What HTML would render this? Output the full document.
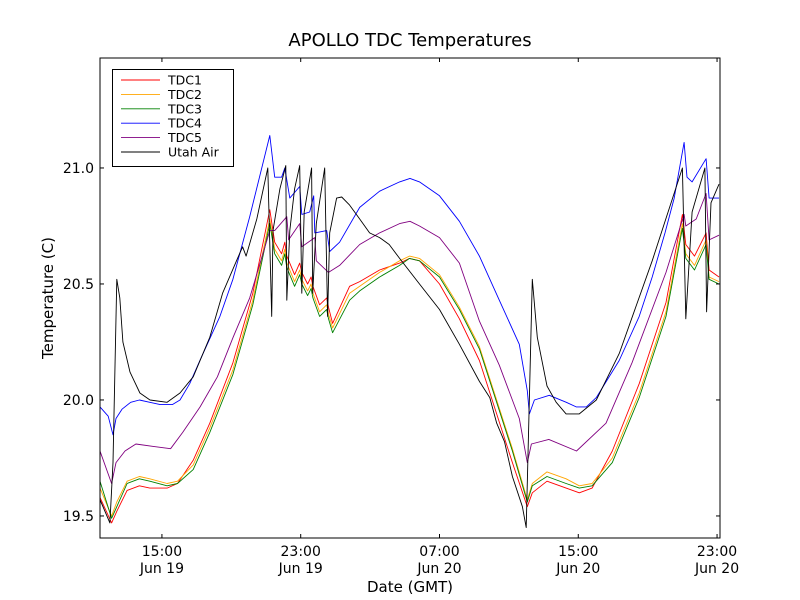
<!DOCTYPE html>
<html><head><meta charset="utf-8"><style>
html,body{margin:0;padding:0;background:#fff;}
svg{display:block;font-family:"DejaVu Sans","Liberation Sans",sans-serif;}
</style></head><body>
<svg id="chart" width="800" height="600">
<rect width="800" height="600" fill="#fff"/>
<text x="410" y="46" font-size="18" text-anchor="middle">APOLLO TDC Temperatures</text>
<text x="410" y="592" font-size="15" text-anchor="middle">Date (GMT)</text>
<text transform="translate(53,298) rotate(-90)" font-size="15" text-anchor="middle">Temperature (C)</text>
<g id="plot"></g>
<g id="axes"></g>
<g id="legend"></g>
</svg>
<script>
// ---- data (hours since Jun 19 00:00 GMT, temperature C) ----
const xTicks = [15, 23, 31, 39, 47];
const xTickTimes = ["15:00", "23:00", "07:00", "15:00", "23:00"];
const xTickDates = ["Jun 19", "Jun 19", "Jun 20", "Jun 20", "Jun 20"];
const yTicks = [19.5, 20.0, 20.5, 21.0];
const yTickLabels = ["19.5", "20.0", "20.5", "21.0"];
const seriesNames = ["TDC1", "TDC2", "TDC3", "TDC4", "TDC5", "Utah Air"];

const tdc1T = [11.43,12.1,12.4,12.99,13.7,14.3,15.3,15.9,16.8,17.76,19.09,20.24,21.22,21.5,21.9,22.08,22.2,22.65,22.94,23.06,23.4,23.6,23.7,24.09,24.5,24.6,24.84,25.82,26.4,27.55,28.7,29.27,29.85,31.0,32.15,33.3,35.2,36.06,36.35,37.2,38.3,39.06,39.8,40.96,42.51,44.06,45.0,45.2,45.7,46.37,46.54,47.11];
const tdc1V = [19.58,19.47,19.52,19.61,19.63,19.62,19.62,19.64,19.74,19.90,20.16,20.46,20.82,20.68,20.63,20.68,20.62,20.54,20.59,20.55,20.50,20.53,20.49,20.41,20.44,20.40,20.33,20.49,20.51,20.56,20.59,20.61,20.60,20.50,20.35,20.17,19.73,19.54,19.60,19.65,19.62,19.60,19.62,19.78,20.07,20.42,20.80,20.67,20.62,20.72,20.56,20.53];

const tdc2T = [11.43,12.1,12.4,12.99,13.7,14.3,15.3,15.9,16.8,17.76,19.09,20.24,21.22,21.5,21.9,22.08,22.2,22.65,22.94,23.06,23.4,23.6,23.7,24.09,24.5,24.6,24.84,25.82,26.4,27.55,28.7,29.27,29.85,31.0,32.15,33.3,35.2,36.06,36.35,37.2,38.3,39.06,39.8,40.96,42.51,44.06,45.0,45.2,45.7,46.37,46.54,47.11];
const tdc2V = [19.62,19.50,19.56,19.65,19.67,19.66,19.64,19.65,19.72,19.88,20.13,20.43,20.78,20.65,20.60,20.65,20.59,20.51,20.56,20.52,20.47,20.50,20.46,20.38,20.41,20.37,20.31,20.46,20.49,20.55,20.60,20.62,20.61,20.54,20.40,20.23,19.79,19.57,19.64,19.69,19.66,19.63,19.64,19.75,20.03,20.38,20.76,20.63,20.58,20.69,20.53,20.51];

const tdc3T = [11.43,12.1,12.4,12.99,13.7,14.3,15.3,15.9,16.8,17.76,19.09,20.24,21.22,21.5,21.9,22.08,22.2,22.65,22.94,23.06,23.4,23.6,23.7,24.09,24.5,24.6,24.84,25.82,26.4,27.55,28.7,29.27,29.85,31.0,32.15,33.3,35.2,36.06,36.35,37.2,38.3,39.06,39.8,40.96,42.51,44.06,45.0,45.2,45.7,46.37,46.54,47.11];
const tdc3V = [19.65,19.49,19.54,19.64,19.66,19.65,19.63,19.64,19.70,19.86,20.11,20.41,20.76,20.63,20.58,20.63,20.57,20.49,20.54,20.50,20.45,20.48,20.44,20.36,20.39,20.35,20.29,20.43,20.47,20.53,20.58,20.61,20.60,20.53,20.39,20.22,19.78,19.56,19.63,19.67,19.64,19.62,19.63,19.73,20.01,20.36,20.74,20.61,20.56,20.67,20.52,20.50];

const tdc4T = [11.43,11.9,12.18,12.35,12.7,13.2,13.7,14.3,14.9,15.6,16.04,16.6,17.19,18.34,19.09,20.06,21.22,21.5,21.9,22.08,22.37,22.94,23.06,23.52,23.75,23.81,24.5,24.67,25.24,26.4,27.55,28.7,29.3,29.85,31.0,32.15,33.3,34.45,35.6,36.06,36.18,36.47,37.33,38.31,38.88,39.46,40.04,41.36,42.51,43.26,44.0,44.53,45.1,45.27,45.56,46.37,46.54,47.11];
const tdc4V = [19.97,19.93,19.85,19.92,19.96,19.99,20.0,19.99,19.98,19.98,20.0,20.07,20.17,20.36,20.52,20.79,21.14,20.96,20.96,21.0,20.87,20.92,20.80,20.81,20.88,20.72,20.73,20.64,20.68,20.83,20.90,20.94,20.955,20.94,20.88,20.77,20.62,20.43,20.24,20.04,19.94,20.0,20.02,19.99,19.97,19.97,20.01,20.17,20.36,20.53,20.72,20.87,21.11,20.96,20.94,21.04,20.87,20.87];

const tdc5T = [11.43,12.1,12.35,12.87,13.5,14.5,15.5,16.2,17.2,18.2,19.1,20.06,21.22,21.5,22.2,22.3,22.94,23.06,23.81,23.9,24.6,25.24,26.4,27.55,28.7,29.3,29.85,31.0,32.15,33.3,34.45,35.6,36.06,36.3,37.3,38.9,40.6,42.1,44.06,45.1,45.2,45.8,46.37,46.54,47.11];
const tdc5V = [19.78,19.64,19.73,19.78,19.81,19.80,19.79,19.86,19.97,20.10,20.27,20.44,20.73,20.73,20.79,20.69,20.76,20.66,20.70,20.60,20.55,20.58,20.67,20.72,20.76,20.77,20.75,20.70,20.59,20.34,20.15,19.92,19.73,19.81,19.83,19.78,19.90,20.16,20.55,20.80,20.75,20.78,20.89,20.69,20.71];

const airT = [11.43,12.0,12.18,12.4,12.57,12.75,13.16,13.73,14.31,15.3,16.04,16.8,17.76,18.5,19.3,19.65,19.85,20.47,21.1,21.33,21.4,21.8,22.14,22.2,22.37,22.65,22.94,23.06,23.2,23.63,23.69,23.9,24.38,24.55,24.67,25.07,25.36,25.82,26.4,26.97,27.55,28.1,28.7,29.85,31.0,32.15,33.3,33.9,34.3,34.75,35.2,35.78,36.0,36.18,36.35,36.64,37.2,37.73,38.3,39.06,40.04,41.36,43.26,45.0,45.2,45.56,46.3,46.4,46.65,47.11];
const airV = [19.57,19.47,19.73,20.52,20.44,20.25,20.12,20.03,20.0,19.99,20.03,20.10,20.27,20.46,20.60,20.66,20.62,20.78,21.0,20.36,20.73,20.91,21.01,20.43,20.73,20.91,21.01,20.46,20.81,21.0,20.46,20.76,21.0,20.36,20.72,20.87,20.875,20.84,20.78,20.72,20.70,20.67,20.61,20.50,20.39,20.24,20.08,20.01,19.90,19.82,19.67,19.54,19.45,20.01,20.52,20.27,20.06,19.99,19.94,19.94,20.0,20.20,20.60,21.0,20.35,20.81,21.0,20.38,20.85,20.93];

const seriesT = [tdc1T, tdc2T, tdc3T, tdc4T, tdc5T, airT];
const seriesV = [tdc1V, tdc2V, tdc3V, tdc4V, tdc5V, airV];
const seriesColors = ["#ff0000", "#ffa500", "#008000", "#0000ff", "#800080", "#000000"];

// ---- axes ----
const L = 100, R = 720, T = 58, B = 538;
const X0 = 11.43, X1 = 47.17, Y0 = 19.405, Y1 = 21.474;
function xs(t){ return L + (t - X0) / (X1 - X0) * (R - L); }
function ys(v){ return B - (v - Y0) / (Y1 - Y0) * (B - T); }
const NS = "http://www.w3.org/2000/svg";
function mk(tag, attrs, parent){
  const e = document.createElementNS(NS, tag);
  for (const k in attrs) e.setAttribute(k, attrs[k]);
  parent.appendChild(e);
  return e;
}
const plot = document.getElementById('plot');
const axes = document.getElementById('axes');
const legend = document.getElementById('legend');

const clip = mk('clipPath', {id:'pc'}, plot);
mk('rect', {x:L, y:T, width:R-L, height:B-T}, clip);

seriesT.forEach((ts, i) => {
  const d = ts.map((t, j) => (j ? 'L' : 'M') + xs(t).toFixed(1) + ',' + ys(seriesV[i][j]).toFixed(1)).join('');
  const p = mk('path', {d:d, fill:'none', stroke:seriesColors[i], 'stroke-width':0.9, 'clip-path':'url(#pc)', 'stroke-linejoin':'round'}, plot);
  
  
});

const frame = mk('rect', {x:L, y:T, width:R-L, height:B-T, fill:'none', stroke:'#000', 'stroke-width':1}, axes);



xTicks.forEach((t, i) => {
  const x = xs(t);
  mk('line', {x1:x, y1:B, x2:x, y2:B-4, stroke:'#000'}, axes);
  mk('line', {x1:x, y1:T, x2:x, y2:T+4, stroke:'#000'}, axes);
  const a = mk('text', {x:x, y:B+18, 'font-size':14, 'text-anchor':'middle'}, axes);
  a.textContent = xTickTimes[i];
  
  
  const b = mk('text', {x:x, y:B+35, 'font-size':14, 'text-anchor':'middle'}, axes);
  b.textContent = xTickDates[i];
  
  
});
yTicks.forEach((v, i) => {
  const y = ys(v);
  mk('line', {x1:L, y1:y, x2:L+4, y2:y, stroke:'#000'}, axes);
  mk('line', {x1:R, y1:y, x2:R-4, y2:y, stroke:'#000'}, axes);
  const a = mk('text', {x:L-6, y:y+5, 'font-size':14, 'text-anchor':'end'}, axes);
  a.textContent = yTickLabels[i];
  
  
});

// ---- legend ----
const box = mk('rect', {x:112.5, y:69.5, width:121, height:97, fill:'#fff', stroke:'#000', 'stroke-width':1}, legend);


seriesNames.forEach((n, i) => {
  const y = 80 + i * 14.4;
  const g = mk('g', {}, legend);
  
  
  mk('line', {x1:121, y1:y, x2:160, y2:y, stroke:seriesColors[i], 'stroke-width':0.9}, g);
  const tx = mk('text', {x:168, y:y+4.5, 'font-size':12.5}, g);
  tx.textContent = n;
});
</script>
</body></html>
